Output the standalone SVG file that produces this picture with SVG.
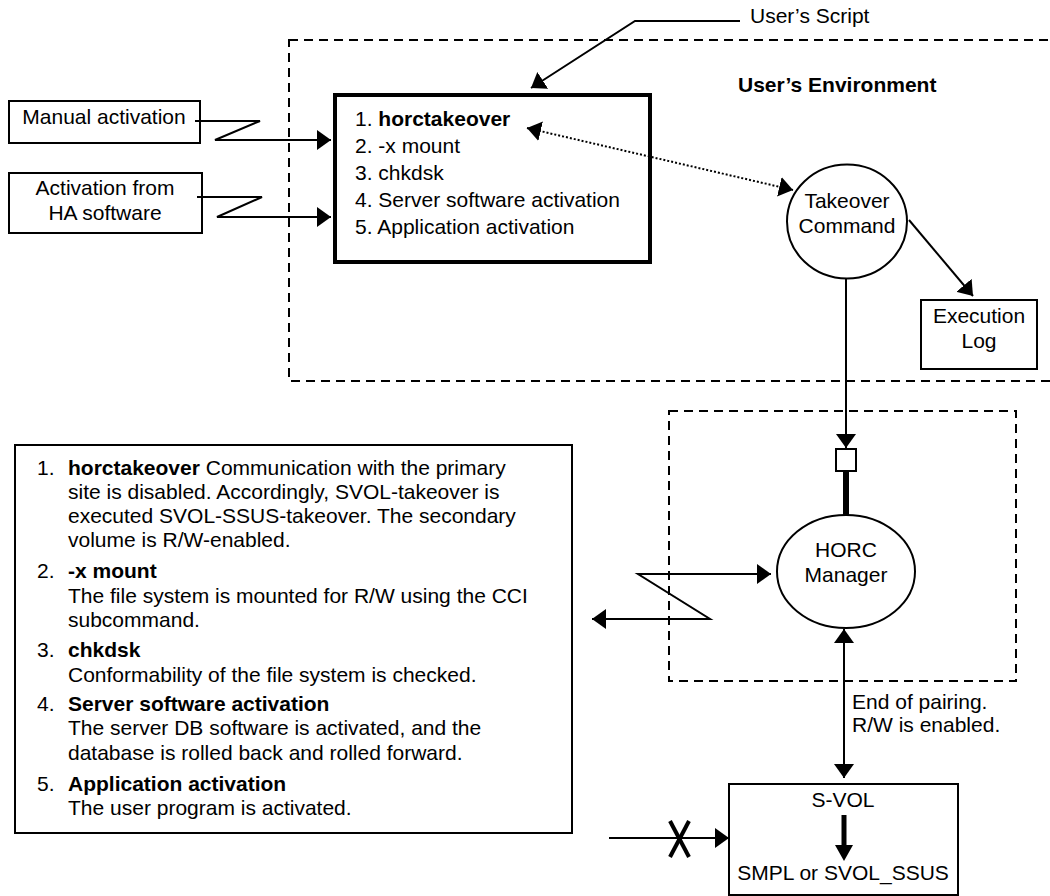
<svg xmlns="http://www.w3.org/2000/svg" width="1050" height="896" viewBox="0 0 1050 896">
<style>
text{font-family:"Liberation Sans",Arial,sans-serif;font-size:21px;fill:#000}
.b{font-weight:bold}
.c{text-anchor:middle}
.ln{fill:none;stroke:#000;stroke-width:2}
.dash{fill:none;stroke:#000;stroke-width:2;stroke-dasharray:9 6}
.box{fill:#fff;stroke:#000;stroke-width:2}
</style>
<defs>
<marker id="ah" markerUnits="userSpaceOnUse" markerWidth="14" markerHeight="20" refX="14" refY="10" orient="auto-start-reverse" viewBox="0 0 14 20">
<path d="M0,0 L14,10 L0,20 z" fill="#000"/>
</marker>
</defs>
<rect width="1050" height="896" fill="#fff"/>

<g id="env-boundary">
<rect class="dash" x="289" y="40" width="780" height="341"/>
<text class="b" x="738" y="92">User’s Environment</text>
</g>
<g id="horc-boundary">
<rect class="dash" x="669" y="411" width="347" height="270"/>
</g>

<g id="manual">
<rect class="box" x="9" y="101" width="191" height="42"/>
<text class="c" x="104" y="124">Manual activation</text>
</g>
<g id="ha">
<rect class="box" x="9" y="173" width="193" height="60"/>
<text class="c" x="105" y="195">Activation from</text>
<text class="c" x="105" y="220">HA software</text>
</g>

<g id="script">
<rect x="335" y="95" width="315" height="167" fill="#fff" stroke="#000" stroke-width="4"/>
<text x="355" y="126">1. <tspan class="b">horctakeover</tspan></text>
<text x="355" y="153">2. -x mount</text>
<text x="355" y="180">3. chkdsk</text>
<text x="355" y="207">4. Server software activation</text>
<text x="355" y="234">5. Application activation</text>
</g>

<g id="users-script-label">
<text x="750" y="23">User’s Script</text>
</g>

<g id="takeover">
<ellipse class="box" cx="847" cy="221.5" rx="60" ry="57"/>
<text class="c" x="847" y="208">Takeover</text>
<text class="c" x="847" y="233">Command</text>
</g>

<g id="execlog">
<rect class="box" x="921" y="300" width="116" height="69"/>
<text class="c" x="979" y="323">Execution</text>
<text class="c" x="979" y="348">Log</text>
</g>

<g id="horc">
<rect x="836" y="449" width="20" height="22" fill="#fff" stroke="#000" stroke-width="2"/>
<ellipse class="box" cx="846" cy="571.5" rx="69" ry="56.5"/>
<text class="c" x="846" y="557">HORC</text>
<text class="c" x="846" y="582">Manager</text>
</g>

<g id="svol">
<rect class="box" x="729" y="784" width="229" height="111"/>
<text class="c" x="843" y="807">S-VOL</text>
<line x1="844" y1="815" x2="844" y2="846" stroke="#000" stroke-width="5"/>
<path d="M835,845 L853,845 L844,861 z" fill="#000"/>
<text class="c" x="843" y="880">SMPL or SVOL_SSUS</text>
</g>

<g id="notes">
<rect class="box" x="15" y="445" width="557" height="388"/>
<text x="37" y="475">1.</text>
<text x="68" y="475"><tspan class="b">horctakeover</tspan> Communication with the primary</text>
<text x="68" y="499">site is disabled. Accordingly, SVOL-takeover is</text>
<text x="68" y="523">executed SVOL-SSUS-takeover. The secondary</text>
<text x="68" y="547">volume is R/W-enabled.</text>
<text x="37" y="578">2.</text>
<text class="b" x="68" y="578">-x mount</text>
<text x="68" y="603">The file system is mounted for R/W using the CCI</text>
<text x="68" y="627">subcommand.</text>
<text x="37" y="657">3.</text>
<text class="b" x="68" y="657">chkdsk</text>
<text x="68" y="682">Conformability of the file system is checked.</text>
<text x="37" y="711">4.</text>
<text class="b" x="68" y="711">Server software activation</text>
<text x="68" y="735">The server DB software is activated, and the</text>
<text x="68" y="760">database is rolled back and rolled forward.</text>
<text x="37" y="791">5.</text>
<text class="b" x="68" y="791">Application activation</text>
<text x="68" y="815">The user program is activated.</text>
</g>

<g id="connectors">
<polyline class="ln" points="195,121 260,121 215,140 331,140" marker-end="url(#ah)"/>
<polyline class="ln" points="197,197 262,197 217,217 331,217" marker-end="url(#ah)"/>
<polyline class="ln" points="740,21 635,21 531,88" marker-end="url(#ah)"/>
<line x1="527" y1="128" x2="793" y2="190" fill="none" stroke="#000" stroke-width="2" stroke-dasharray="2 2" marker-start="url(#ah)" marker-end="url(#ah)"/>
<line class="ln" x1="909" y1="220" x2="973" y2="296" marker-end="url(#ah)"/>
<line class="ln" x1="846" y1="278.5" x2="846" y2="448" marker-end="url(#ah)"/>
<line x1="846" y1="471" x2="846" y2="515" stroke="#000" stroke-width="6"/>
<polyline class="ln" points="592,619 710,619 638,574 771,574" marker-start="url(#ah)" marker-end="url(#ah)"/>
<line class="ln" x1="844" y1="629" x2="844" y2="778" marker-start="url(#ah)" marker-end="url(#ah)"/>
<text x="852" y="709">End of pairing.</text>
<text x="852" y="732">R/W is enabled.</text>
<line class="ln" x1="609" y1="838" x2="729" y2="838" marker-end="url(#ah)"/>
<line x1="670" y1="821" x2="689" y2="857" stroke="#000" stroke-width="4"/>
<line x1="689" y1="821" x2="670" y2="857" stroke="#000" stroke-width="4"/>
</g>
</svg>
